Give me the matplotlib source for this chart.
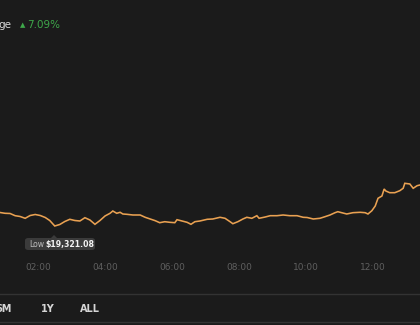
import matplotlib.pyplot as plt
from matplotlib.patches import FancyBboxPatch, Polygon

# minutes since midnight, price in USD
minutes = [52, 61, 70, 79, 88, 97, 106, 115, 124, 133, 141, 150, 159, 168, 177, 186,
           195, 204, 213, 222, 231, 240, 249, 254, 261, 267, 272, 279, 290, 303, 312,
           321, 330, 338, 347, 356, 365, 369, 378, 387, 394, 401, 410, 423, 433, 446,
           455, 464, 469, 478, 487, 494, 503, 512, 516, 527, 536, 548, 559, 571, 584,
           595, 602, 613, 625, 634, 643, 652, 657, 664, 673, 684, 697, 706, 711, 718,
           724, 729, 736, 740, 743, 750, 759, 768, 774, 777, 786, 792, 799, 804]
prices = [19442.6, 19435.4, 19433.6, 19413.8, 19406.6, 19390.4, 19415.6, 19424.6,
          19415.6, 19397.6, 19370.6, 19321.08, 19334.6, 19361.6, 19381.4, 19370.6,
          19366.1, 19395.8, 19375.1, 19336.4, 19370.6, 19411.1, 19435.4, 19456.1,
          19435.4, 19444.4, 19429.1, 19426.4, 19420.1, 19420.1, 19399.4, 19384.1,
          19368.8, 19350.8, 19359.8, 19354.4, 19350.8, 19377.8, 19366.1, 19354.4,
          19336.4, 19359.8, 19366.1, 19381.4, 19384.1, 19399.4, 19390.4, 19359.8,
          19341.8, 19359.8, 19384.1, 19399.4, 19390.4, 19413.8, 19390.4, 19402.1,
          19413.8, 19413.8, 19420.1, 19413.8, 19413.8, 19399.4, 19397.6, 19384.1,
          19390.4, 19404.8, 19420.1, 19440.8, 19449.8, 19440.8, 19429.1, 19440.8,
          19444.4, 19440.8, 19429.1, 19458.8, 19501.1, 19570.4, 19591.1, 19654.1,
          19636.1, 19620.8, 19620.8, 19638.8, 19660.4, 19705.4, 19699.1, 19660.4,
          19683.8, 19690.1]
tick_minutes = [120, 240, 360, 480, 600, 720]
tick_labels = ["02:00", "04:00", "06:00", "08:00", "10:00", "12:00"]
tabs = ["6M", "1Y", "ALL"]
low_price = 19321.08
change_pct = 7.09

bg = "#1b1b1b"
W, H = 420, 325
fig = plt.figure(figsize=(W / 100, H / 100), dpi=100, facecolor=bg)

# plot area: pixel rows 0..255
plot_h = 255
ax = fig.add_axes([0, (H - plot_h) / H, 1, plot_h / H])
ax.set_facecolor(bg)
ax.plot(minutes, prices, color="#e9a152", lw=1.15, solid_joinstyle="miter")

ppx = 9.0  # dollars per pixel
ax.set_xlim(51.94, 804.2)
ax.set_ylim(low_price - (plot_h - 226) * ppx, low_price + 226 * ppx)
for s in ax.spines.values():
    s.set_visible(False)
ax.set_yticks([])
ax.set_xticks(tick_minutes)
ax.set_xticklabels(tick_labels)
ax.tick_params(axis="x", length=0, pad=5.5, labelsize=6.5, labelcolor="#5f5f5f")

# low tooltip
box = FancyBboxPatch((25 / W, 1 - 250 / H), 70 / W, 12 / H,
                     boxstyle="round,pad=0,rounding_size=0.008",
                     transform=fig.transFigure, facecolor="#3b3b3b",
                     edgecolor="none")
fig.patches.append(box)
px = 54
tri = Polygon([((px - 3) / W, 1 - 238 / H), ((px + 3) / W, 1 - 238 / H),
               (px / W, 1 - 235 / H)], closed=True, transform=fig.transFigure,
              facecolor="#3b3b3b", edgecolor="none")
fig.patches.append(tri)
fig.text(29 / W, 1 - 244.5 / H, "Low", color="#bdbdbd", fontsize=5.6,
         va="center", ha="left")
fig.text(45 / W, 1 - 244.5 / H, "${:,.2f}".format(low_price), color="#f2f2f2",
         fontsize=5.6, fontweight="bold", va="center", ha="left")

# header
fig.text(-2 / W, 1 - 25 / H, "ge", color="#d8d8d8", fontsize=7.5,
         va="center", ha="left")
fig.text(20 / W, 1 - 25 / H, "\u25b2", color="#3ea84a", fontsize=5,
         va="center", ha="left")
fig.text(27 / W, 1 - 25 / H, "{:.2f}%".format(change_pct), color="#3ea84a",
         fontsize=7.5, va="center", ha="left")

# separators and range tabs
for yy in (294, 322):
    fig.add_artist(plt.Line2D([0, 1], [1 - yy / H, 1 - yy / H],
                              transform=fig.transFigure, color="#333333", lw=1))
for lbl, xp in zip(tabs, [-5, 41, 80]):
    fig.text(xp / W, 1 - 308.5 / H, lbl, color="#d6d6d6", fontsize=7,
             fontweight="bold", va="center", ha="left")

fig.savefig("out.png", dpi=100, facecolor=bg)
